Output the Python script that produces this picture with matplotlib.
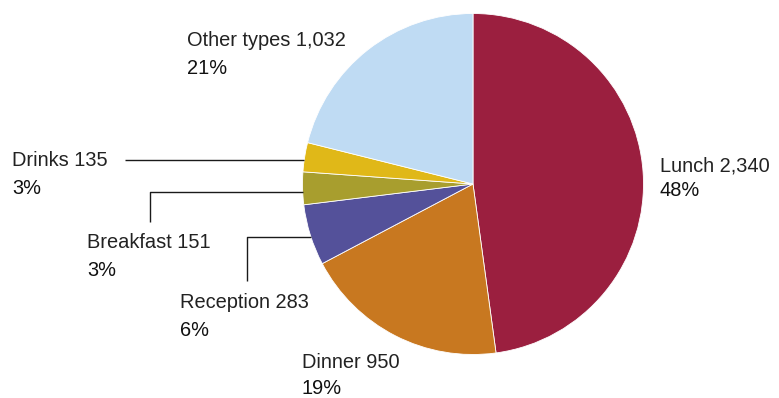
import matplotlib
matplotlib.use("Agg")
import matplotlib.pyplot as plt
import numpy as np

categories = ["Lunch", "Dinner", "Reception", "Breakfast", "Drinks", "Other types"]
values = [2340, 950, 283, 151, 135, 1032]
colors = ["#9B1F3F", "#C87820", "#54519A", "#A89E2E", "#E0B818", "#BFDBF3"]

W, H = 779, 398
fig = plt.figure(figsize=(W / 100, H / 100), dpi=100)
ax = fig.add_axes([0, 0, 1, 1])

cx, cy, r = 473, H - 184, 170.5
ax.pie(values, colors=colors, startangle=90, counterclock=False,
       center=(cx, cy), radius=r,
       wedgeprops=dict(linewidth=0.6, edgecolor="white"))
ax.set_xlim(0, W)
ax.set_ylim(0, H)
ax.set_aspect("auto")
ax.axis("off")

total = sum(values)
pcts = [round(v / total * 100) for v in values]

# label anchor: (left x, name line y, percent line y) in pixel coords from top
label_pos = {
    "Lunch": (660, 166, 191),
    "Dinner": (302, 362, 389),
    "Reception": (180, 303, 331),
    "Breakfast": (87, 243, 271),
    "Drinks": (12, 161, 189),
    "Other types": (187, 41, 68),
}

name_font = dict(family=["Liberation Sans", "DejaVu Sans"], fontsize=14.4, color="#222222", weight="normal")
pct_font = dict(family=["Liberation Sans", "DejaVu Sans"], fontsize=14.4, color="#111111", weight="normal")

for cat, val, pct in zip(categories, values, pcts):
    x, y1, y2 = label_pos[cat]
    ax.text(x, H - y1, f"{cat} {val:,}", va="center", ha="left", **name_font)
    ax.text(x, H - y2, f"{pct}%", va="center", ha="left", **pct_font)


def edge_x(py):
    dy = (H - py) - cy
    return cx - np.sqrt(r ** 2 - dy ** 2)


line_kw = dict(color="#1a1a1a", linewidth=1.0, solid_capstyle="butt")
# Drinks leader
ax.plot([125, edge_x(160)], [H - 160, H - 160], **line_kw)
# Breakfast leader
ax.plot([150, 150, edge_x(192)], [H - 222, H - 192, H - 192], **line_kw)
# Reception leader
ax.plot([247, 247, edge_x(237)], [H - 281, H - 237, H - 237], **line_kw)

fig.savefig("out.png", dpi=100, facecolor="white")
